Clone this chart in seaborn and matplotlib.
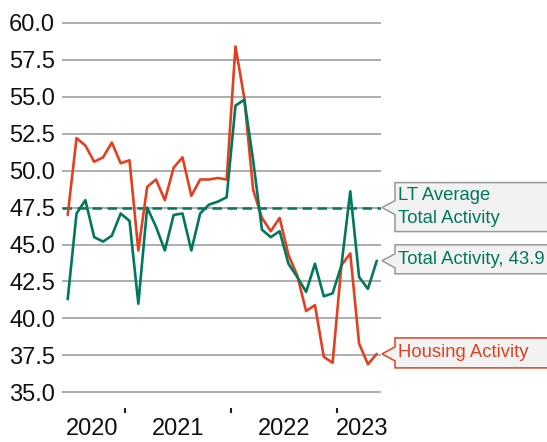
import numpy as np
import pandas as pd
import matplotlib
matplotlib.use("Agg")
import matplotlib.pyplot as plt
from matplotlib.patches import Polygon
import seaborn as sns

# ---- data (monthly, Jun 2020 - May 2023) ----
months = pd.period_range("2020-06", "2023-05", freq="M").astype(str).tolist()
total_activity = [41.3, 47.1, 48.0, 45.5, 45.2, 45.6, 47.1, 46.6, 41.0, 47.5,
                  46.2, 44.6, 47.0, 47.1, 44.6, 47.1, 47.7, 47.9, 48.2, 54.4,
                  54.8, 50.7, 46.0, 45.5, 45.9, 43.7, 42.8, 41.8, 43.7, 41.5,
                  41.7, 43.6, 48.6, 42.8, 42.0, 43.9]
housing_activity = [47.0, 52.2, 51.7, 50.6, 50.9, 51.9, 50.5, 50.7, 44.6, 48.9,
                    49.4, 48.0, 50.2, 50.9, 48.3, 49.4, 49.4, 49.5, 49.4, 58.4,
                    54.9, 48.7, 46.8, 45.9, 46.8, 44.3, 42.9, 40.5, 40.9, 37.4,
                    37.0, 43.6, 44.4, 38.3, 36.9, 37.6]
lt_average = 47.5
year_labels = ["2020", "2021", "2022", "2023"]
y_ticks = [35.0, 37.5, 40.0, 42.5, 45.0, 47.5, 50.0, 52.5, 55.0, 57.5, 60.0]

GREEN = "#00785C"
RED = "#E2401F"
GRID = "#a0a0a0"

sns.set_style("white")
plt.rcParams["font.family"] = ["Liberation Sans", "DejaVu Sans"]

W, H = 547, 442
fig = plt.figure(figsize=(W / 100, H / 100), dpi=100)
ax = fig.add_axes([62 / W, (H - 408) / H, 319 / W, (408 - 15) / H])

df = pd.DataFrame({
    "idx": np.arange(len(months)),
    "month": months,
    "Total Activity": total_activity,
    "Housing Activity": housing_activity,
})
long = df.melt(id_vars=["idx", "month"], var_name="series", value_name="value")

for v in y_ticks:
    ax.axhline(v, color=GRID, lw=1.2, zorder=0)
ax.axhline(lt_average, color=GREEN, lw=1.8, ls=(0, (3.8, 2.2)), zorder=1)

sns.lineplot(data=long, x="idx", y="value", hue="series",
             palette={"Total Activity": GREEN, "Housing Activity": RED},
             hue_order=["Housing Activity", "Total Activity"],
             lw=1.9, ax=ax, legend=False, zorder=3)

ax.set_xlim(-0.645, 35.48)
ax.set_ylim(33.94, 60.53)
for s in ax.spines.values():
    s.set_visible(False)

ax.set_yticks(y_ticks)
ax.set_yticklabels([f"{v:.1f}" for v in y_ticks], fontsize=17)
ax.tick_params(axis="y", length=0, pad=5, labelcolor="#111111")

# year boundaries (January) as ticks, year labels centered between
jan_idx = [i - 0.5 for i, m in enumerate(months) if m.endswith("-01")]
ax.set_xticks(jan_idx)
ax.set_xticklabels([])
ax.tick_params(axis="x", which="major", length=3.6, width=1.5, color="#222222",
               direction="out", bottom=True)
label_pos = [2.75, 12.5, 24.5, 33.3]
ax.set_xticks(label_pos, minor=True)
ax.set_xticklabels(year_labels, minor=True, fontsize=17)
ax.tick_params(axis="x", which="minor", length=0, pad=7, labelcolor="#111111")
ax.set_xlabel("")
ax.set_ylabel("")

# ---- callouts ----
fig.canvas.draw()


def callout(yval, top_off, bot_off, edge, text, tcolor):
    _, yc = ax.transData.transform((0, yval))
    xt, xl, xr = 382, 395, 570
    yt, yb = yc + top_off, yc - bot_off
    pts = [(xl, yt), (xr, yt), (xr, yb), (xl, yb), (xl, yc - 7),
           (xt, yc), (xl, yc + 7)]
    poly = Polygon(pts, closed=True, transform=None, facecolor="#f2f2f2",
                   edgecolor=edge, lw=1.1, zorder=5)
    fig.patches.append(poly)
    fig.text(398 / W, (yc + (top_off - bot_off) / 2) / H, text, color=tcolor,
             fontsize=13.3, va="center", ha="left", linespacing=1.45, zorder=10)


callout(lt_average, 25, 24, "#999999", "LT Average\nTotal Activity", GREEN)
callout(total_activity[-1], 16, 13, "#999999", "Total Activity, 43.9", GREEN)
callout(housing_activity[-1], 16, 14, RED, "Housing Activity", RED)

fig.savefig("out.png", dpi=100)
